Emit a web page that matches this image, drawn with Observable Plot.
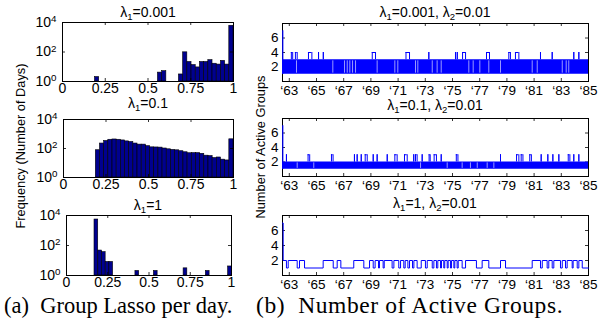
<!DOCTYPE html>
<html><head><meta charset="utf-8">
<script src="https://cdn.jsdelivr.net/npm/d3@7"></script>
<script src="https://cdn.jsdelivr.net/npm/@observablehq/plot@0.6"></script>
<style>
html,body{margin:0;padding:0;background:#fff;}
#root{position:relative;width:605px;height:327px;overflow:hidden;background:#fff;font-family:"Liberation Sans",Arial,sans-serif;color:#000;}
#root svg{position:absolute;overflow:visible;}
.title{position:absolute;font-size:14px;white-space:nowrap;transform:translate(-50%,-50%);line-height:1;}
.title sub{font-size:9.5px;vertical-align:-3px;line-height:0;}
.ylab{position:absolute;font-size:12.8px;white-space:nowrap;transform:translate(-50%,-50%) rotate(-90deg);line-height:1;}
.cap{position:absolute;font-family:"Liberation Serif","Times New Roman",serif;font-size:22.5px;white-space:nowrap;line-height:1;}
.cap.b{font-size:23.5px;letter-spacing:0.6px;}
</style></head>
<body><div id="root"></div>
<script>
// ---------- DATA ----------
// Left: histograms of group-lasso value per day (log-scale counts)
const lassoBinCenters = [0.2023,0.2268,0.2514,0.2759,0.3005,0.3250,0.3495,0.3741,0.3986,0.4232,0.4477,0.4723,0.4968,0.5214,0.5459,0.5705,0.5950,0.6195,0.6441,0.6686,0.6932,0.7177,0.7423,0.7668,0.7914,0.8159,0.8405,0.8650,0.8895,0.9141,0.9386,0.9632,0.9877];
const lassoBinWidth = 0.0245;
const countsL0001 = [2,0,0,0,0,0,0,0,0,0,0,0,0,0,0,4,5,0,0,0,3,95,21,13,9,21,21,28,16,14,25,14,6000];
const countsL01 = [76,220,330,400,420,400,360,310,280,220,185,185,145,120,118,115,100,88,80,75,65,55,47,48,48,43,32,30,22,24,17,15,430];
const l1BinCenters = [0.181,0.204,0.226,0.249,0.271,0.429,0.541,0.721,0.856,0.991];
const l1BinWidth = 0.0225;
const countsL1 = [5400,46,36,8,8,2,2,3,2,4];
const xTicksLeft = [0,0.25,0.5,0.75,1];
const yTicksLeft = [1,100,10000];

// Right: number of active groups over time (years)
const yearTicks = [1963,1965,1967,1969,1971,1973,1975,1977,1979,1981,1983,1985];
const yTicksRight = [2,4,6];
const startDay = [{t:1962.52, v:7}];
// panel 1: dense switching between 1 and 3
const r1Band = [{t1:1962.5, t2:1985, lo:1, hi:3}];
const r1Spikes = [[1963.15,1963.25],[1963.45,1963.58],[1964.41,1964.66],[1965.15,1965.15],[1965.5,1965.5],[1969.1,1969.34],[1971.58,1971.84],[1973.26,1973.26],[1975.22,1975.22],[1975.35,1975.35],[1975.74,1975.96],[1977.5,1977.72],[1979.14,1979.26],[1979.63,1979.88],[1981.47,1981.47],[1982.33,1982.33],[1983.92,1983.92],[1984.29,1984.29]];
const r1Gaps = [1963.53,1966.2,1967.06,1967.26,1967.45,1967.65,1967.87,1969.46,1970.76,1970.98,1972.28,1972.45,1973.51,1973.87,1974.17,1976.2,1976.52,1977.01,1977.67,1978.53,1980.86,1981.23,1983.07,1983.36,1983.55];
// panel 2: dense switching between 1 and 2
const r2Band = [{t1:1962.5, t2:1985, lo:1, hi:2}];
const r2Spikes = [[1962.79,1962.79],[1964.38,1964.5],[1966.1,1966.22],[1967.79,1967.79],[1967.99,1967.99],[1968.29,1968.29],[1968.58,1968.73],[1969.17,1969.17],[1969.46,1969.46],[1970.2,1970.2],[1970.76,1970.93],[1971.47,1971.67],[1972.15,1972.15],[1972.28,1972.4],[1972.77,1972.77],[1973.28,1973.36],[1973.65,1973.82],[1974.17,1974.17],[1975.28,1975.4],[1978.53,1978.53],[1979.71,1979.88],[1980.05,1980.18],[1980.68,1980.8],[1981.52,1981.52],[1982.01,1982.01],[1982.38,1982.38],[1982.82,1982.82],[1983.51,1983.63],[1983.92,1983.92],[1984.29,1984.29]];
const r2Gaps = [1963.58,1964.8,1972.65,1974.61,1975.71,1976.32,1976.82,1977.55,1978.04];
// panel 3: periods with 2 active groups (otherwise 1)
const r3High = [[1962.55,1962.79],[1962.92,1963.58],[1963.75,1964.12],[1965.49,1966.23],[1966.52,1966.79],[1967.74,1968.48],[1968.9,1969.17],[1969.31,1969.56],[1969.63,1969.9],[1969.98,1970.56],[1970.69,1971.05],[1971.18,1971.42],[1971.52,1971.72],[1971.84,1972.06],[1972.16,1972.4],[1972.7,1973.01],[1973.14,1973.51],[1973.63,1973.82],[1973.92,1974.12],[1974.19,1974.36],[1974.43,1974.61],[1974.68,1974.85],[1974.93,1975.1],[1975.17,1975.34],[1975.42,1975.71],[1975.96,1976.76],[1977.18,1977.67],[1978.53,1978.9],[1980.86,1981.47],[1981.6,1981.96],[1982.08,1982.33],[1982.45,1982.94],[1983.07,1983.31],[1983.43,1983.8],[1983.87,1984.17],[1984.29,1984.54]];

// ---------- DRAWING ----------
const root = document.getElementById("root");
const BLUE = "#0000ff", NAVY = "#00008f";
const ML = 46, MR = 8, MT = 6, MB = 24;
const FONT = '"Liberation Sans",Arial,sans-serif';

function place(svg, fr) {
  svg.style.left = (fr.x1 - ML) + "px";
  svg.style.top = (fr.y1 - MT) + "px";
  svg.querySelectorAll("text").forEach(t => {
    const m = /^10\^(\d)$/.exec(t.textContent);
    if (m) {
      t.textContent = "10";
      const ts = document.createElementNS("http://www.w3.org/2000/svg","tspan");
      ts.setAttribute("dy","-0.5em"); ts.setAttribute("font-size","0.7em");
      ts.textContent = m[1];
      t.appendChild(ts);
    }
  });
  root.appendChild(svg);
}

function boxMarks(W, H, xt, yt) {
  return [
    Plot.frame({stroke:"#000", strokeWidth:1}),
    Plot.tickX(xt, {x:d=>d, insetTop:H-3, stroke:"#000", strokeWidth:0.8}),
    Plot.tickX(xt, {x:d=>d, insetBottom:H-3, stroke:"#000", strokeWidth:0.8}),
    Plot.tickY(yt, {y:d=>d, insetRight:W-3, stroke:"#000", strokeWidth:0.8}),
    Plot.tickY(yt, {y:d=>d, insetLeft:W-3, stroke:"#000", strokeWidth:0.8})
  ];
}

function hist(fr, centers, counts, bw) {
  const data = centers.map((c,i)=>({c, n:counts[i]})).filter(d=>d.n>0);
  const W = fr.x2-fr.x1, H = fr.y2-fr.y1;
  const svg = Plot.plot({
    width:W+ML+MR, height:H+MT+MB, marginLeft:ML, marginRight:MR, marginTop:MT, marginBottom:MB,
    style:{fontFamily:FONT, fontSize:"14px", color:"#000", background:"transparent", overflow:"visible"},
    x:{domain:[0,1]},
    y:{type:"log", domain:[1,10000]},
    marks:[
      Plot.rect(data, {x1:d=>d.c-bw/2, x2:d=>d.c+bw/2, y1:1, y2:"n", fill:NAVY, stroke:"#000", strokeWidth:0.6}),
      ...boxMarks(W,H,xTicksLeft,yTicksLeft),
      Plot.axisX({ticks:xTicksLeft, tickSize:0, tickPadding:2, tickFormat:d=>String(d), label:null}),
      Plot.axisY({ticks:yTicksLeft, tickSize:0, tickPadding:6, tickFormat:d=>"10^"+Math.round(Math.log10(d)), label:null})
    ]
  });
  place(svg, fr);
}

function spikeMarks(spikes, lo, hi) {
  const s = spikes.map(([a,b])=>({a,b}));
  return [
    Plot.ruleX(s, {x:"a", y1:lo, y2:hi, stroke:BLUE, strokeWidth:1}),
    Plot.ruleX(s, {x:"b", y1:lo, y2:hi, stroke:BLUE, strokeWidth:1}),
    Plot.ruleY(s, {y:hi, x1:"a", x2:"b", stroke:BLUE, strokeWidth:1})
  ];
}

function timePanel(fr, dataMarks) {
  const W = fr.x2-fr.x1, H = fr.y2-fr.y1;
  const svg = Plot.plot({
    width:W+ML+MR, height:H+MT+MB, marginLeft:ML, marginRight:MR, marginTop:MT, marginBottom:MB,
    style:{fontFamily:FONT, fontSize:"13.5px", color:"#000", background:"transparent", overflow:"visible"},
    x:{domain:[1962.5,1985]},
    y:{domain:[0,8]},
    marks:[
      ...boxMarks(W,H,yearTicks,yTicksRight),
      ...dataMarks,
      Plot.axisX({ticks:yearTicks, tickSize:0, tickPadding:4, tickFormat:d=>"\u2018"+String(d).slice(2), label:null}),
      Plot.axisY({ticks:yTicksRight, tickSize:0, tickPadding:4, tickFormat:d=>String(d), label:null})
    ]
  });
  place(svg, fr);
}

// left histograms
hist({x1:62,x2:233,y1:22,y2:81}, lassoBinCenters, countsL0001, lassoBinWidth);
hist({x1:63,x2:233,y1:119,y2:177}, lassoBinCenters, countsL01, lassoBinWidth);
hist({x1:66,x2:231,y1:215,y2:275}, l1BinCenters, countsL1, l1BinWidth);

// right time panels
timePanel({x1:282,x2:588,y1:23,y2:81}, [
  Plot.rect(r1Band, {x1:"t1", x2:"t2", y1:"lo", y2:"hi", fill:BLUE}),
  Plot.ruleX(r1Gaps, {x:d=>d, y1:1.15, y2:2.85, stroke:"#fff", strokeWidth:0.6}),
  ...spikeMarks(r1Spikes, 3, 4),
  Plot.ruleX(startDay, {x:"t", y1:1, y2:"v", stroke:BLUE, strokeWidth:1.2})
]);
timePanel({x1:282,x2:588,y1:118,y2:176}, [
  Plot.rect(r2Band, {x1:"t1", x2:"t2", y1:"lo", y2:"hi", fill:BLUE}),
  Plot.ruleX(r2Gaps, {x:d=>d, y1:1.12, y2:1.88, stroke:"#fff", strokeWidth:0.6}),
  ...spikeMarks(r2Spikes, 2, 3),
  Plot.ruleX(startDay, {x:"t", y1:1, y2:"v", stroke:BLUE, strokeWidth:1.2})
]);
const r3Series = [{t:1962.5, v:7}];
r3High.forEach(([a,b]) => { r3Series.push({t:a, v:2}); r3Series.push({t:b, v:1}); });
r3Series.push({t:1985, v:1});
timePanel({x1:282,x2:588,y1:215,y2:275}, [
  Plot.line(r3Series, {x:"t", y:"v", curve:"step-after", stroke:BLUE, strokeWidth:1})
]);

// titles, labels, captions
function html(cls, x, y, content) {
  const d = document.createElement("div");
  d.className = cls; d.style.left = x+"px"; d.style.top = y+"px"; d.innerHTML = content;
  root.appendChild(d);
}
html("title", 148, 12, "λ<sub>1</sub>=0.001");
html("title", 148, 103, "λ<sub>1</sub>=0.1");
html("title", 148, 205, "λ<sub>1</sub>=1");
html("title", 435, 12, "λ<sub>1</sub>=0.001, λ<sub>2</sub>=0.01");
html("title", 435, 105, "λ<sub>1</sub>=0.1, λ<sub>2</sub>=0.01");
html("title", 435, 203, "λ<sub>1</sub>=1, λ<sub>2</sub>=0.01");
html("ylab", 21, 146, "Frequency (Number of Days)");
html("ylab", 261, 147, "Number of Active Groups");
html("cap", 4, 295, "(a)&nbsp; Group Lasso per day.");
html("cap b", 256, 294, "(b)&nbsp; Number of Active Groups.");
</script>
</body></html>
